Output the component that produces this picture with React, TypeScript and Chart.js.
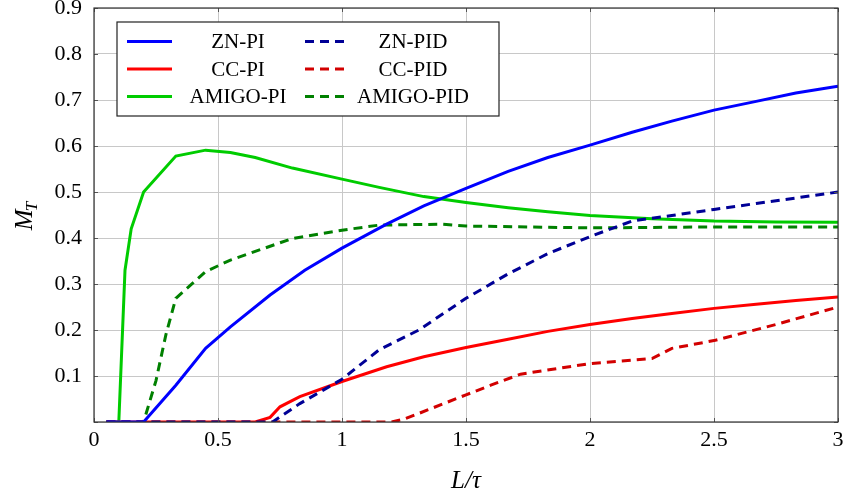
import React, { useEffect, useRef } from 'react';
import { Chart, registerables } from 'chart.js';

Chart.register(...registerables);

// ---- data ----
const xTicks = [0, 0.5, 1, 1.5, 2, 2.5, 3];
const xTickLabels = ['0', '0.5', '1', '1.5', '2', '2.5', '3'];
const yTicks = [0, 0.1, 0.2, 0.3, 0.4, 0.5, 0.6, 0.7, 0.8, 0.9];
const yTickLabels = ['', '0.1', '0.2', '0.3', '0.4', '0.5', '0.6', '0.7', '0.8', '0.9'];

const znPiX = [0.05, 0.1, 0.15, 0.2, 0.33, 0.45, 0.55, 0.71, 0.85, 1.0, 1.18, 1.33, 1.5, 1.67, 1.83, 2.0, 2.17, 2.33, 2.5, 2.67, 2.83, 3.0];
const znPiY = [0, 0, 0, 0, 0.08, 0.16, 0.207, 0.276, 0.33, 0.378, 0.43, 0.47, 0.508, 0.545, 0.575, 0.602, 0.63, 0.654, 0.678, 0.697, 0.715, 0.73];

const znPidX = [0.05, 0.3, 0.5, 0.72, 0.83, 1.0, 1.15, 1.31, 1.5, 1.67, 1.83, 2.0, 2.17, 2.33, 2.5, 2.67, 2.83, 3.0];
const znPidY = [0, 0, 0, 0, 0.04, 0.093, 0.157, 0.2, 0.269, 0.322, 0.366, 0.403, 0.437, 0.449, 0.462, 0.475, 0.487, 0.5];

const ccPiX = [0.05, 0.3, 0.5, 0.65, 0.71, 0.75, 0.83, 1.0, 1.18, 1.33, 1.5, 1.67, 1.83, 2.0, 2.17, 2.33, 2.5, 2.67, 2.83, 3.0];
const ccPiY = [0, 0, 0, 0, 0.01, 0.033, 0.055, 0.088, 0.12, 0.142, 0.162, 0.18, 0.197, 0.212, 0.225, 0.236, 0.247, 0.256, 0.264, 0.272];

const ccPidX = [0.05, 0.5, 1.0, 1.2, 1.25, 1.5, 1.6, 1.72, 2.0, 2.25, 2.33, 2.5, 2.75, 3.0];
const ccPidY = [0, 0, 0, 0, 0.006, 0.059, 0.08, 0.104, 0.127, 0.138, 0.16, 0.177, 0.212, 0.25];

const amigoPiX = [0.05, 0.1, 0.125, 0.15, 0.2, 0.33, 0.45, 0.55, 0.65, 0.8, 1.0, 1.15, 1.33, 1.5, 1.67, 1.83, 2.0, 2.25, 2.5, 2.75, 3.0];
const amigoPiY = [0, 0, 0.33, 0.42, 0.5, 0.578, 0.591, 0.586, 0.575, 0.552, 0.528, 0.51, 0.49, 0.477, 0.466, 0.457, 0.449, 0.442, 0.437, 0.435, 0.434];

const amigoPidX = [0.05, 0.1, 0.2, 0.25, 0.29, 0.33, 0.45, 0.55, 0.8, 1.0, 1.15, 1.4, 1.5, 2.0, 2.5, 3.0];
const amigoPidY = [0, 0, 0, 0.09, 0.19, 0.269, 0.327, 0.352, 0.399, 0.417, 0.428, 0.43, 0.426, 0.422, 0.424, 0.424];

const seriesLabels = ['ZN-PI', 'ZN-PID', 'CC-PI', 'CC-PID', 'AMIGO-PI', 'AMIGO-PID'];

const FONT = '"Liberation Serif"';
const DASH = [9, 6];

const toPts = (xs: number[], ys: number[]) => xs.map((x, i) => ({ x, y: ys[i] }));

const overlayPlugin = {
  id: 'overlay',
  afterDraw(chart: any) {
    const { ctx, chartArea: a } = chart;
    const xs = chart.scales.x;
    const ys = chart.scales.y;
    ctx.save();
    // inward tick marks
    ctx.strokeStyle = '#555';
    ctx.lineWidth = 1;
    ctx.beginPath();
    for (const v of xTicks) {
      const px = Math.round(xs.getPixelForValue(v)) + 0.5;
      ctx.moveTo(px, a.bottom); ctx.lineTo(px, a.bottom - 4);
      ctx.moveTo(px, a.top); ctx.lineTo(px, a.top + 4);
    }
    for (const v of yTicks) {
      const py = Math.round(ys.getPixelForValue(v)) + 0.5;
      ctx.moveTo(a.left, py); ctx.lineTo(a.left + 4, py);
      ctx.moveTo(a.right, py); ctx.lineTo(a.right - 4, py);
    }
    ctx.stroke();
    // frame
    ctx.strokeStyle = '#333';
    ctx.lineWidth = 1.2;
    ctx.strokeRect(a.left, a.top, a.right - a.left, a.bottom - a.top);

    // axis titles
    ctx.fillStyle = '#000';
    ctx.textBaseline = 'alphabetic';
    ctx.font = 'italic 25px ' + FONT;
    ctx.textAlign = 'center';
    ctx.fillText('L/τ', (a.left + a.right) / 2, a.bottom + 66);
    ctx.save();
    ctx.translate(32, (a.top + a.bottom) / 2);
    ctx.rotate(-Math.PI / 2);
    ctx.textAlign = 'left';
    ctx.font = 'italic 25px ' + FONT;
    const mW = ctx.measureText('M').width;
    ctx.font = 'italic 17px ' + FONT;
    const tW = ctx.measureText('T').width;
    const total = mW + tW;
    ctx.font = 'italic 25px ' + FONT;
    ctx.fillText('M', -total / 2, 0);
    ctx.font = 'italic 17px ' + FONT;
    ctx.fillText('T', -total / 2 + mW - 2, 5);
    ctx.restore();

    // legend
    const lx = a.left + 23;
    const ly = a.top + 14;
    const lw = 382;
    const lh = 94;
    ctx.fillStyle = '#fff';
    ctx.fillRect(lx, ly, lw, lh);
    ctx.strokeStyle = '#222';
    ctx.lineWidth = 1.2;
    ctx.strokeRect(lx, ly, lw, lh);
    const rowY = [19.5, 47, 74.5];
    const colLine = [[10, 55], [188, 228]];
    const colText = [121, 296];
    chart.data.datasets.forEach((ds: any, i: number) => {
      const col = i % 2;
      const row = Math.floor(i / 2);
      const y = ly + rowY[row];
      ctx.strokeStyle = ds.borderColor;
      ctx.lineWidth = 3;
      ctx.setLineDash(ds.borderDash || []);
      ctx.beginPath();
      ctx.moveTo(lx + colLine[col][0], y);
      ctx.lineTo(lx + colLine[col][1], y);
      ctx.stroke();
      ctx.setLineDash([]);
      ctx.fillStyle = '#000';
      ctx.font = '21px ' + FONT;
      ctx.textAlign = 'center';
      ctx.textBaseline = 'middle';
      ctx.fillText(ds.label, lx + colText[col], y + 1);
    });
    ctx.restore();
  },
};

export default function App() {
  const ref = useRef<HTMLCanvasElement | null>(null);
  useEffect(() => {
    if (!ref.current) return;
    const mk = (label: string, xs: number[], ys: number[], color: string, dashed: boolean) => ({
      label,
      data: toPts(xs, ys),
      borderColor: color,
      backgroundColor: color,
      borderWidth: 3,
      borderDash: dashed ? DASH : [],
      pointRadius: 0,
      tension: 0,
      fill: false,
    });
    const chart = new Chart(ref.current, {
      type: 'line',
      data: {
        datasets: [
          mk(seriesLabels[0], znPiX, znPiY, 'rgb(0,0,255)', false),
          mk(seriesLabels[1], znPidX, znPidY, 'rgb(0,0,150)', true),
          mk(seriesLabels[2], ccPiX, ccPiY, 'rgb(255,0,0)', false),
          mk(seriesLabels[3], ccPidX, ccPidY, 'rgb(210,0,0)', true),
          mk(seriesLabels[4], amigoPiX, amigoPiY, 'rgb(0,204,0)', false),
          mk(seriesLabels[5], amigoPidX, amigoPidY, 'rgb(0,128,0)', true),
        ],
      },
      options: {
        animation: false,
        responsive: true,
        maintainAspectRatio: false,
        layout: { padding: { left: 0, top: 8, right: 11, bottom: 0 } },
        plugins: { legend: { display: false }, tooltip: { enabled: false } },
        scales: {
          x: {
            type: 'linear',
            min: 0,
            max: 3,
            afterBuildTicks: (s: any) => { s.ticks = xTicks.map((v) => ({ value: v })); },
            afterFit: (s: any) => { s.height = 76; s.paddingLeft = 0; s.paddingRight = 0; },
            grid: { color: '#c8c8c8', lineWidth: 1, drawTicks: false },
            border: { display: false },
            ticks: {
              padding: 5,
              color: '#000',
              font: { family: FONT, size: 22 },
              maxRotation: 0,
              autoSkip: false,
              callback: (v: any) => {
                const i = xTicks.findIndex((t) => Math.abs(t - v) < 1e-6);
                return i >= 0 ? xTickLabels[i] : '';
              },
            },
          },
          y: {
            type: 'linear',
            min: 0,
            max: 0.9,
            afterBuildTicks: (s: any) => { s.ticks = yTicks.map((v) => ({ value: v })); },
            afterFit: (s: any) => { s.width = 94; s.paddingTop = 0; s.paddingBottom = 0; },
            grid: { color: '#c8c8c8', lineWidth: 1, drawTicks: false },
            border: { display: false },
            ticks: {
              padding: 12,
              color: '#000',
              font: { family: FONT, size: 22 },
              autoSkip: false,
              callback: (v: any) => {
                const i = yTicks.findIndex((t) => Math.abs(t - v) < 1e-6);
                return i >= 0 ? yTickLabels[i] : '';
              },
            },
          },
        },
      },
      plugins: [overlayPlugin],
    } as any);
    const redraw = () => { try { chart.update(); } catch (e) { /* ignore */ } };
    const fonts: any = (document as any).fonts;
    if (fonts && fonts.load) {
      Promise.all([
        fonts.load('22px "Liberation Serif"'),
        fonts.load('italic 25px "Liberation Serif"'),
      ]).then(redraw, redraw);
    }
    const t = setTimeout(redraw, 50);
    return () => { clearTimeout(t); chart.destroy(); };
  }, []);
  return (
    <div style={{ position: 'absolute', left: 0, top: 0, width: 849, height: 498, background: '#fff' }}>
      <span style={{ position: 'absolute', left: -9999, top: 0, fontFamily: 'Liberation Serif', fontSize: 22 }}>
        0.9 <i>L/τ M</i>
      </span>
      <canvas ref={ref} />
    </div>
  );
}
